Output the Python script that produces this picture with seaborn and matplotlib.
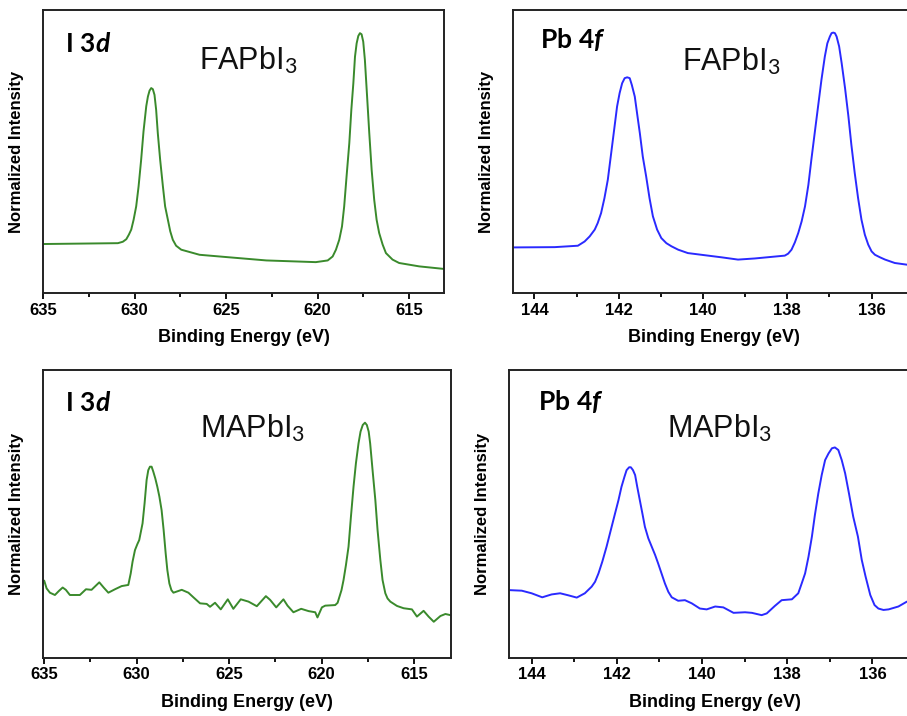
import matplotlib
matplotlib.use("Agg")
import matplotlib.pyplot as plt
import matplotlib.ticker as mticker
import pandas as pd
import seaborn as sns

# I 3d, FAPbI3 (binding energy eV, normalized intensity)
i3d_fa_be = [635.0, 630.91, 630.64, 630.45, 630.31, 630.18, 630.05, 629.91, 629.78, 629.64,
             629.51, 629.36, 629.27, 629.18, 629.09, 629.0, 628.91, 628.82, 628.73, 628.6,
             628.45, 628.33, 628.18, 628.05, 627.91, 627.73, 627.45, 626.45, 625.0, 622.8,
             620.1, 619.45, 619.18, 619.0, 618.82, 618.67, 618.55, 618.42, 618.27, 618.16,
             618.05, 617.96, 617.87, 617.78, 617.69, 617.6, 617.51, 617.42, 617.31, 617.18,
             617.05, 616.91, 616.78, 616.64, 616.45, 616.27, 615.91, 615.55, 614.45, 613.1]
i3d_fa_int = [0.173, 0.176, 0.181, 0.19, 0.206, 0.224, 0.259, 0.306, 0.376, 0.47,
              0.571, 0.66, 0.694, 0.715, 0.724, 0.72, 0.7, 0.647, 0.565, 0.47,
              0.376, 0.306, 0.259, 0.218, 0.188, 0.167, 0.153, 0.135, 0.127, 0.115,
              0.109, 0.115, 0.129, 0.153, 0.188, 0.235, 0.306, 0.412, 0.53, 0.647,
              0.741, 0.835, 0.882, 0.908, 0.918, 0.914, 0.888, 0.824, 0.706, 0.565,
              0.435, 0.329, 0.259, 0.212, 0.171, 0.141, 0.118, 0.106, 0.094, 0.085]

# Pb 4f, FAPbI3
pb4f_fa_be = [144.51, 143.52, 142.97, 142.81, 142.69, 142.57, 142.5, 142.42, 142.34, 142.26,
              142.18, 142.1, 142.04, 141.98, 141.92, 141.86, 141.8, 141.74, 141.69, 141.62,
              141.56, 141.5, 141.43, 141.35, 141.27, 141.19, 141.09, 140.99, 140.87, 140.75,
              140.59, 140.36, 139.56, 139.17, 138.77, 138.06, 137.98, 137.9, 137.82, 137.74,
              137.66, 137.58, 137.5, 137.43, 137.35, 137.27, 137.19, 137.11, 137.05, 136.99,
              136.95, 136.91, 136.87, 136.83, 136.77, 136.71, 136.63, 136.55, 136.48, 136.4,
              136.32, 136.24, 136.16, 136.08, 136.0, 135.92, 135.8, 135.68, 135.45, 135.16]
pb4f_fa_int = [0.161, 0.162, 0.167, 0.182, 0.2, 0.224, 0.247, 0.282, 0.335, 0.4,
               0.494, 0.588, 0.659, 0.706, 0.741, 0.759, 0.762, 0.759, 0.735, 0.694,
               0.629, 0.565, 0.482, 0.412, 0.335, 0.271, 0.224, 0.194, 0.176, 0.165,
               0.153, 0.141, 0.126, 0.118, 0.122, 0.132, 0.139, 0.153, 0.179, 0.212,
               0.253, 0.306, 0.382, 0.47, 0.565, 0.659, 0.753, 0.835, 0.882, 0.906,
               0.918, 0.92, 0.918, 0.906, 0.871, 0.812, 0.724, 0.624, 0.524, 0.424,
               0.335, 0.259, 0.206, 0.171, 0.147, 0.135, 0.126, 0.118, 0.106, 0.1]

# I 3d, MAPbI3
i3d_ma_be = [635.0, 634.87, 634.69, 634.42, 634.19, 634.0, 633.83, 633.61, 633.07, 632.74,
             632.44, 632.02, 631.77, 631.53, 631.17, 630.81, 630.45, 630.32, 630.22, 630.09,
             629.96, 629.86, 629.77, 629.68, 629.57, 629.46, 629.37, 629.28, 629.19, 629.1,
             628.99, 628.88, 628.77, 628.65, 628.54, 628.43, 628.34, 628.23, 628.12, 628.01,
             627.56, 627.2, 626.93, 626.57, 626.21, 626.03, 625.76, 625.45, 625.07, 624.77,
             624.37, 623.95, 623.5, 623.01, 622.78, 622.45, 622.06, 621.84, 621.52, 621.1,
             620.7, 620.34, 620.22, 619.98, 619.8, 619.26, 619.13, 619.03, 618.92, 618.81,
             618.68, 618.54, 618.41, 618.27, 618.14, 618.0, 617.89, 617.77, 617.65, 617.55,
             617.45, 617.37, 617.24, 617.09, 616.97, 616.82, 616.7, 616.55, 616.43, 616.28,
             615.92, 615.56, 615.11, 614.84, 614.48, 614.21, 613.93, 613.57, 613.3, 613.03]
i3d_ma_int = [0.268, 0.241, 0.226, 0.218, 0.233, 0.244, 0.236, 0.218, 0.218, 0.238,
              0.236, 0.262, 0.243, 0.226, 0.238, 0.249, 0.253, 0.293, 0.334, 0.374,
              0.395, 0.409, 0.438, 0.467, 0.537, 0.618, 0.652, 0.664, 0.664, 0.647,
              0.623, 0.594, 0.56, 0.513, 0.444, 0.363, 0.305, 0.258, 0.235, 0.226,
              0.236, 0.226, 0.21, 0.189, 0.187, 0.177, 0.191, 0.168, 0.203, 0.17,
              0.203, 0.195, 0.179, 0.214, 0.201, 0.175, 0.203, 0.181, 0.158, 0.17,
              0.162, 0.158, 0.14, 0.175, 0.181, 0.183, 0.191, 0.212, 0.235, 0.27,
              0.322, 0.386, 0.49, 0.594, 0.676, 0.745, 0.786, 0.809, 0.817, 0.809,
              0.786, 0.745, 0.652, 0.548, 0.444, 0.34, 0.27, 0.224, 0.206, 0.195,
              0.18, 0.172, 0.168, 0.143, 0.163, 0.143, 0.125, 0.145, 0.152, 0.148]

# Pb 4f, MAPbI3
pb4f_ma_be = [144.53, 144.23, 144.0, 143.75, 143.53, 143.33, 143.14, 142.94, 142.75, 142.59,
              142.51, 142.43, 142.34, 142.24, 142.14, 142.04, 141.96, 141.89, 141.82, 141.77,
              141.71, 141.67, 141.62, 141.57, 141.52, 141.46, 141.4, 141.34, 141.26, 141.18,
              141.1, 141.03, 140.95, 140.87, 140.79, 140.71, 140.56, 140.4, 140.24, 140.05,
              139.89, 139.69, 139.5, 139.26, 138.99, 138.83, 138.6, 138.48, 138.29, 138.13,
              137.89, 137.74, 137.66, 137.58, 137.5, 137.42, 137.35, 137.27, 137.19, 137.11,
              137.03, 136.95, 136.88, 136.8, 136.72, 136.64, 136.55, 136.45, 136.34, 136.25,
              136.16, 136.05, 135.95, 135.86, 135.74, 135.62, 135.39, 135.19]
pb4f_ma_int = [0.235, 0.233, 0.224, 0.21, 0.22, 0.224, 0.217, 0.209, 0.224, 0.247,
               0.264, 0.293, 0.334, 0.386, 0.444, 0.502, 0.548, 0.594, 0.629, 0.652,
               0.662, 0.662, 0.652, 0.635, 0.594, 0.548, 0.502, 0.455, 0.415, 0.386,
               0.357, 0.328, 0.293, 0.258, 0.229, 0.21, 0.198, 0.2, 0.189, 0.171,
               0.168, 0.178, 0.175, 0.156, 0.158, 0.156, 0.148, 0.154, 0.18, 0.2,
               0.203, 0.224, 0.258, 0.293, 0.351, 0.421, 0.496, 0.571, 0.635, 0.687,
               0.71, 0.728, 0.731, 0.722, 0.687, 0.641, 0.571, 0.49, 0.421, 0.34,
               0.282, 0.218, 0.183, 0.171, 0.166, 0.168, 0.178, 0.195]

sns.set_style("white")
plt.rcParams['font.family'] = ['Liberation Sans', 'DejaVu Sans']
plt.rcParams['text.color'] = 'black'
plt.rcParams['axes.labelcolor'] = 'black'
plt.rcParams['xtick.color'] = 'black'
plt.rcParams['mathtext.fontset'] = 'custom'
plt.rcParams['mathtext.rm'] = 'Lato'
plt.rcParams['mathtext.it'] = 'Lato:italic'
plt.rcParams['mathtext.bf'] = 'Lato:bold'
plt.rcParams['mathtext.bfit'] = 'Lato:bold:italic'

green = '#3a8a2c'
blue = '#2a2aff'

fig = plt.figure(figsize=(9.07, 7.16), dpi=100)

panels = [
    # be, int, color, pos, xlim, major, core label, sample, core xy, sample xy
    (i3d_fa_be, i3d_fa_int, green, [0.0474, 0.5908, 0.4421, 0.3953], (635.0, 613.1), 5,
     r'$\mathbf{I\ 3}\mathbfit{d}$', r'FAPbI$_3$', (0.055, 0.852), (0.39, 0.79)),
    (pb4f_fa_be, pb4f_fa_int, blue, [0.5656, 0.5908, 0.4432, 0.3953], (144.51, 134.97), 2,
     r'$\mathbf{Pb\ 4}\mathbfit{f}$', r'FAPbI$_3$', (0.067, 0.866), (0.42, 0.788)),
    (i3d_ma_be, i3d_ma_int, green, [0.0477, 0.0814, 0.4495, 0.4018], (635.05, 613.0), 5,
     r'$\mathbf{I\ 3}\mathbfit{d}$', r'MAPbI$_3$', (0.053, 0.857), (0.384, 0.766)),
    (pb4f_ma_be, pb4f_ma_int, blue, [0.5612, 0.0814, 0.4542, 0.4018], (144.53, 134.86), 2,
     r'$\mathbf{Pb\ 4}\mathbfit{f}$', r'MAPbI$_3$', (0.07, 0.86), (0.383, 0.766)),
]

for be, inten, color, pos, xlim, major, core, sample, core_xy, sample_xy in panels:
    ax = fig.add_axes(pos)
    df = pd.DataFrame({'be': be, 'int': inten})
    sns.lineplot(data=df, x='be', y='int', color=color, linewidth=1.4, ax=ax,
                 estimator=None, sort=True)
    ax.set_xlim(*xlim)
    ax.set_ylim(0, 1)
    ax.set_yticks([])
    ax.xaxis.set_major_locator(mticker.MultipleLocator(major))
    ax.xaxis.set_minor_locator(mticker.MultipleLocator(major / 2))
    ax.tick_params(axis='x', which='major', direction='out', length=4, width=1.3,
                   labelsize=12, pad=3, bottom=True, colors='black')
    ax.tick_params(axis='x', which='minor', direction='out', length=3, width=1.3, bottom=True)
    for label in ax.get_xticklabels():
        label.set_fontweight('bold')
    for sp in ax.spines.values():
        sp.set_linewidth(1.4)
        sp.set_color('#222222')
    ax.set_xlabel('Binding Energy (eV)', fontsize=13, fontweight='bold', labelpad=8)
    ax.set_ylabel('Normalized Intensity', fontsize=12, fontweight='bold', labelpad=14)
    ax.text(core_xy[0], core_xy[1], core, transform=ax.transAxes, fontsize=19,
            color='black', va='baseline', ha='left')
    ax.text(sample_xy[0], sample_xy[1], sample, transform=ax.transAxes, fontsize=22,
            color='#111111', va='baseline', ha='left')

fig.savefig('out.png', dpi=100)
